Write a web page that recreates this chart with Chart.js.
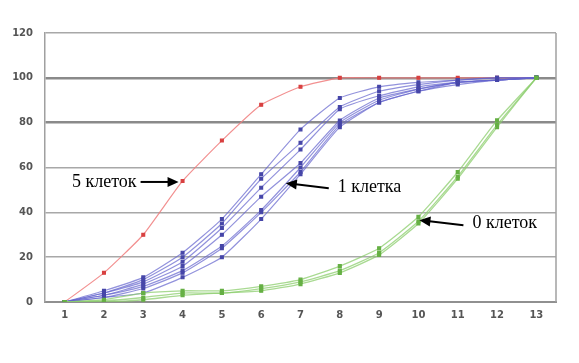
<!DOCTYPE html>
<html>
<head>
<meta charset="utf-8">
<script src="https://cdn.jsdelivr.net/npm/chart.js@4"></script>
<style>
  html, body { margin: 0; padding: 0; background: #fff; }
  #wrap { width: 579px; height: 363px; }
</style>
</head>
<body>
<div id="wrap"><canvas id="chart"></canvas></div>
<script>
// x categories
var steps = ['1','2','3','4','5','6','7','8','9','10','11','12','13'];

// 5 клеток
var red5 = [0, 13, 30, 54, 72, 88, 96, 100, 100, 100, 100, 100, 100];

// 1 клетка (several runs)
var blue1 = [0, 5, 11, 22, 37, 57, 77, 91, 96, 98, 99, 100, 100];
var blue2 = [0, 4, 10, 20, 35, 55, 71, 87, 94, 97, 99, 100, 100];
var blue3 = [0, 4, 9, 18, 33, 51, 68, 86, 92, 96, 98, 99, 100];
var blue4 = [0, 3, 8, 16, 30, 47, 62, 81, 91, 95, 98, 99, 100];
var blue5 = [0, 3, 7, 14, 25, 41, 60, 80, 90, 95, 98, 99, 100];
var blue6 = [0, 2, 6, 13, 24, 40, 58, 79, 89, 94, 98, 99, 100];
var blue7 = [0, 2, 4, 11, 20, 37, 57, 78, 89, 94, 97, 99, 100];

// 0 клеток
var green1 = [0, 1, 4, 5, 5, 7, 10, 16, 24, 38, 58, 81, 100];
var green2 = [0, 0.5, 2, 4, 4, 6, 9, 14, 22, 36, 56, 79, 100];
var green3 = [0, 0, 1, 3, 4, 5, 8, 13, 21, 35, 55, 78, 100];

var yTicks = [0, 20, 40, 60, 80, 100, 120];

function blueSet(d){
  return {
    data: d,
    borderColor: 'rgba(100,100,205,0.7)',
    borderWidth: 1.2,
    pointBackgroundColor: '#4646a8',
    pointBorderColor: '#4646a8',
    pointRadius: 2,
    pointStyle: 'rect',
    tension: 0.15
  };
}
function greenSet(d){
  return {
    data: d,
    borderColor: 'rgba(140,205,110,0.75)',
    borderWidth: 1.3,
    pointBackgroundColor: '#66b044',
    pointBorderColor: '#66b044',
    pointRadius: 2,
    pointStyle: 'rect',
    tension: 0.15
  };
}

var datasets = [
  greenSet(green1), greenSet(green2), greenSet(green3),
  blueSet(blue1), blueSet(blue2), blueSet(blue3), blueSet(blue4),
  blueSet(blue5), blueSet(blue6), blueSet(blue7),
  {
    data: red5,
    borderColor: 'rgba(240,125,125,0.85)',
    borderWidth: 1.2,
    pointBackgroundColor: '#d84040',
    pointBorderColor: '#d84040',
    pointRadius: 2,
    pointStyle: 'rect',
    tension: 0.15
  }
];

// labels with arrows
function arrow(ctx, x1, y1, x2, y2){
  var a = Math.atan2(y2 - y1, x2 - x1);
  ctx.beginPath();
  ctx.moveTo(x1, y1);
  ctx.lineTo(x2 - 8*Math.cos(a), y2 - 8*Math.sin(a));
  ctx.lineWidth = 2;
  ctx.strokeStyle = '#000';
  ctx.stroke();
  ctx.beginPath();
  ctx.moveTo(x2, y2);
  ctx.lineTo(x2 - 11*Math.cos(a) + 5*Math.sin(a), y2 - 11*Math.sin(a) - 5*Math.cos(a));
  ctx.lineTo(x2 - 11*Math.cos(a) - 5*Math.sin(a), y2 - 11*Math.sin(a) + 5*Math.cos(a));
  ctx.closePath();
  ctx.fillStyle = '#000';
  ctx.fill();
}

var notes = {
  id: 'notes',
  afterDraw: function(chart){
    var ctx = chart.ctx, xs = chart.scales.x, ys = chart.scales.y, a = chart.chartArea;
    ctx.save();
    // frame right side
    ctx.strokeStyle = '#a0a0a0';
    ctx.lineWidth = 1.5;
    ctx.beginPath();
    ctx.moveTo(a.right, a.top); ctx.lineTo(a.right, a.bottom);
    ctx.stroke();

    ctx.font = '18px "Liberation Serif", serif';
    ctx.fillStyle = '#000';
    ctx.textBaseline = 'middle';

    var px = xs.getPixelForValue(3), py = ys.getPixelForValue(54);
    ctx.textAlign = 'right';
    ctx.fillText('5 клеток', px - 46, py + 1);
    arrow(ctx, px - 42, py + 1, px - 4, py + 1);

    px = xs.getPixelForValue(5) + 0.6 * (xs.getPixelForValue(6) - xs.getPixelForValue(5));
    py = ys.getPixelForValue(53);
    ctx.textAlign = 'left';
    ctx.fillText('1 клетка', px + 53, py + 4);
    arrow(ctx, px + 44, py + 5, px + 1, py);

    px = xs.getPixelForValue(9);
    py = ys.getPixelForValue(36.5);
    ctx.fillText('0 клеток', px + 54, py + 3);
    arrow(ctx, px + 45, py + 5, px + 1, py);
    ctx.restore();
  }
};

new Chart(document.getElementById('chart'), {
  type: 'line',
  data: { labels: steps, datasets: datasets },
  options: {
    responsive: true,
    maintainAspectRatio: false,
    animation: false,
    layout: { padding: { top: 33, right: 23, bottom: 0, left: 0 } },
    plugins: { legend: { display: false }, tooltip: { enabled: false } },
    scales: {
      x: {
        offset: true,
        grid: { display: false, drawTicks: false },
        border: { display: true, color: '#909090', width: 2 },
        ticks: { color: '#555', font: { family: 'DejaVu Sans', size: 10, weight: 'bold' }, padding: 7 },
        afterFit: function(s){ s.height = 61; }
      },
      y: {
        min: 0, max: 120,
        afterBuildTicks: function(s){ s.ticks = yTicks.map(function(v){ return { value: v }; }); },
        grid: {
          color: function(c){ return (c.tick.value === 80 || c.tick.value === 100) ? '#8a8a8a' : '#a8a8a8'; },
          lineWidth: function(c){ return (c.tick.value === 80 || c.tick.value === 100) ? 2.5 : 1.5; },
          drawTicks: false
        },
        border: { display: true, color: '#a0a0a0', width: 1.5 },
        ticks: { color: '#555', font: { family: 'DejaVu Sans', size: 10, weight: 'bold' }, padding: 12 },
        afterFit: function(s){ s.width = 45; }
      }
    }
  },
  plugins: [notes]
});
</script>
</body>
</html>
